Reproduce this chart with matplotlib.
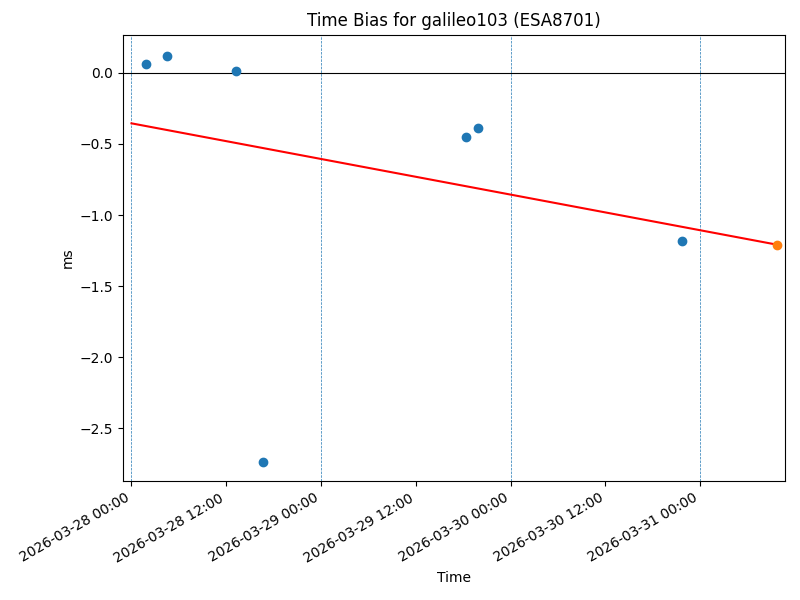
import pandas as pd
import matplotlib
matplotlib.use('Agg')
import matplotlib.pyplot as plt
import matplotlib.dates as mdates

# measured time bias samples
times = pd.to_datetime(['2026-03-28 01:52', '2026-03-28 04:31', '2026-03-28 13:15',
                        '2026-03-28 16:40', '2026-03-29 18:22', '2026-03-29 19:53',
                        '2026-03-30 21:42'])
bias_ms = [0.063, 0.120, 0.014, -2.735, -0.451, -0.387, -1.183]

# linear fit line and predicted point
fit_times = pd.to_datetime(['2026-03-28 00:00', '2026-03-31 09:44'])
fit_values = [-0.355, -1.209]
pred_time = pd.to_datetime(['2026-03-31 09:44'])
pred_value = [-1.209]

day_marks = pd.to_datetime(['2026-03-28', '2026-03-29', '2026-03-30', '2026-03-31'])

fig, ax = plt.subplots(figsize=(8, 6), dpi=100)
for d in day_marks:
    ax.axvline(d, color='C0', linestyle='--', linewidth=0.5)
ax.axhline(0, color='black', linewidth=0.8)
ax.scatter(times, bias_ms, color='C0', zorder=3)
ax.plot(fit_times, fit_values, color='red')
ax.scatter(pred_time, pred_value, color='C1', zorder=3)

ax.set_xlim(pd.Timestamp('2026-03-27 22:57'), pd.Timestamp('2026-03-31 10:42'))
ax.set_ylim(-2.873, 0.268)
ax.xaxis.set_major_locator(mdates.HourLocator(byhour=[0, 12]))
ax.xaxis.set_major_formatter(mdates.DateFormatter('%Y-%m-%d %H:%M'))
ax.set_title('Time Bias for galileo103 (ESA8701)')
ax.set_xlabel('Time')
ax.set_ylabel('ms')
fig.autofmt_xdate()
fig.subplots_adjust(left=0.154, right=0.981, top=0.942, bottom=0.198)
fig.savefig('out.png')
